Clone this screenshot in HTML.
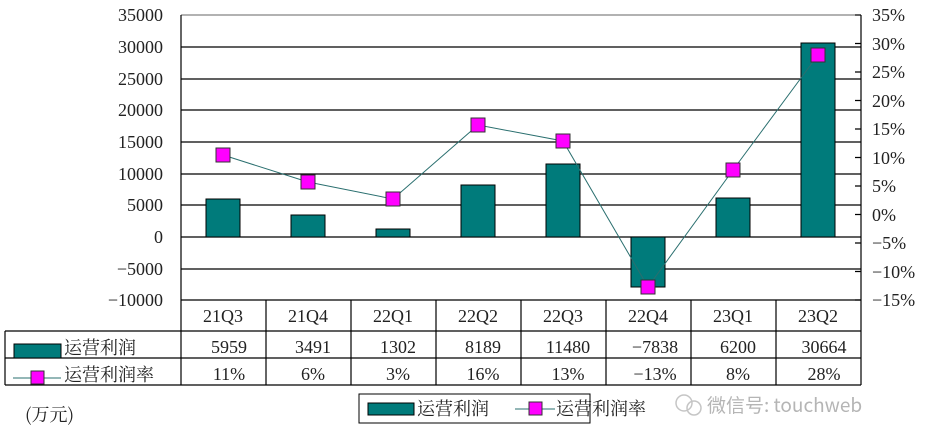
<!DOCTYPE html>
<html><head><meta charset="utf-8"><style>
body{margin:0;background:#fff;}
svg text{font-family:"Liberation Serif","Noto Serif CJK SC",serif;fill:#222;}
.cj{font-family:"Noto Serif CJK SC","Noto Sans CJK SC",serif;}
.wm{font-family:"Noto Sans CJK SC","WenQuanYi Zen Hei",sans-serif;}
</style></head><body>
<svg width="926" height="442" viewBox="0 0 926 442" xmlns="http://www.w3.org/2000/svg">
<g stroke="#000" stroke-width="1.2">
<line x1="181" y1="47" x2="861" y2="47"/><line x1="181" y1="79" x2="861" y2="79"/>
<line x1="181" y1="110" x2="861" y2="110"/><line x1="181" y1="142" x2="861" y2="142"/>
<line x1="181" y1="174" x2="861" y2="174"/><line x1="181" y1="205" x2="861" y2="205"/>
<line x1="181" y1="237" x2="861" y2="237"/><line x1="181" y1="269" x2="861" y2="269"/>
</g>
<line x1="181" y1="15" x2="861" y2="15" stroke="#666" stroke-width="1"/>
<g fill="#007b7b" stroke="#000" stroke-width="1">
<rect x="206" y="199" width="34" height="38"/>
<rect x="291" y="215" width="34" height="22"/>
<rect x="376" y="229" width="34" height="8"/>
<rect x="461" y="185" width="34" height="52"/>
<rect x="546" y="164" width="34" height="73"/>
<rect x="631" y="237" width="34" height="50"/>
<rect x="716" y="198" width="34" height="39"/>
<rect x="801" y="43" width="34" height="194"/>
</g>
<polyline fill="none" stroke="#2a6f6f" stroke-width="1" points="223,155 308,182 393,199 478,125 563,141 648,287 733,170 818,55"/>
<g fill="#ff00ff" stroke="#333" stroke-width="1">
<rect x="216" y="148" width="14" height="14"/><rect x="301" y="175" width="14" height="14"/>
<rect x="386" y="192" width="14" height="14"/><rect x="471" y="118" width="14" height="14"/>
<rect x="556" y="134" width="14" height="14"/><rect x="641" y="280" width="14" height="14"/>
<rect x="726" y="163" width="14" height="14"/><rect x="811" y="48" width="14" height="14"/>
</g>
<g stroke="#000" stroke-width="1.2" fill="none">
<line x1="181" y1="15" x2="181" y2="385"/>
<line x1="861" y1="15" x2="861" y2="385"/>
<line x1="181" y1="300" x2="861" y2="300"/>
<line x1="5" y1="331" x2="861" y2="331"/>
<line x1="5" y1="358" x2="861" y2="358"/>
<line x1="5" y1="385" x2="861" y2="385"/>
<line x1="5" y1="331" x2="5" y2="385"/>
<line x1="266" y1="300" x2="266" y2="385"/><line x1="351" y1="300" x2="351" y2="385"/>
<line x1="436" y1="300" x2="436" y2="385"/><line x1="521" y1="300" x2="521" y2="385"/>
<line x1="606" y1="300" x2="606" y2="385"/><line x1="691" y1="300" x2="691" y2="385"/>
<line x1="776" y1="300" x2="776" y2="385"/>
<path d="M855 15H861M855 43.5H861M855 72H861M855 100.5H861M855 129H861M855 157.5H861M855 186H861M855 214.5H861M855 243H861M855 271.5H861M855 300H861"/>
</g>
<g font-size="18" text-anchor="end">
<text x="163" y="21">35000</text><text x="163" y="53">30000</text><text x="163" y="85">25000</text>
<text x="163" y="116">20000</text><text x="163" y="148">15000</text><text x="163" y="180">10000</text>
<text x="163" y="211">5000</text><text x="163" y="243">0</text><text x="163" y="275">−5000</text>
<text x="163" y="306">−10000</text>
</g>
<g font-size="18" text-anchor="start">
<text x="872" y="21">35%</text><text x="872" y="50">30%</text><text x="872" y="78">25%</text>
<text x="872" y="107">20%</text><text x="872" y="135">15%</text><text x="872" y="164">10%</text>
<text x="872" y="192">5%</text><text x="872" y="221">0%</text><text x="872" y="249">−5%</text>
<text x="872" y="278">−10%</text><text x="872" y="306">−15%</text>
</g>
<g font-size="18" text-anchor="middle">
<text x="223" y="322">21Q3</text><text x="308" y="322">21Q4</text><text x="393" y="322">22Q1</text>
<text x="478" y="322">22Q2</text><text x="563" y="322">22Q3</text><text x="648" y="322">22Q4</text>
<text x="733" y="322">23Q1</text><text x="818" y="322">23Q2</text>
<text x="229" y="353">5959</text><text x="313" y="353">3491</text><text x="398" y="353">1302</text>
<text x="483" y="353">8189</text><text x="568" y="353">11480</text><text x="655" y="353">−7838</text>
<text x="738" y="353">6200</text><text x="824" y="353">30664</text>
<text x="229" y="380">11%</text><text x="313" y="380">6%</text><text x="398" y="380">3%</text>
<text x="483" y="380">16%</text><text x="568" y="380">13%</text><text x="655" y="380">−13%</text>
<text x="738" y="380">8%</text><text x="824" y="380">28%</text>
</g>
<rect x="14" y="344" width="47" height="14" fill="#007b7b" stroke="#000"/>
<text class="cj" x="64" y="354" font-size="18">运营利润</text>
<line x1="13" y1="378" x2="61" y2="378" stroke="#2a6f6f"/>
<rect x="31" y="371" width="13" height="13" fill="#ff00ff" stroke="#333"/>
<text class="cj" x="64" y="381" font-size="18">运营利润率</text>
<text class="cj" x="25" y="421" font-size="18">(万元)</text>
<rect x="359" y="394" width="231" height="29" fill="#fff" stroke="#000"/>
<rect x="368" y="403" width="46" height="12" fill="#007b7b" stroke="#000"/>
<text class="cj" x="417" y="415" font-size="18">运营利润</text>
<line x1="515" y1="409" x2="555" y2="409" stroke="#2a6f6f"/>
<rect x="529" y="402" width="13" height="13" fill="#ff00ff" stroke="#333"/>
<text class="cj" x="556" y="415" font-size="18">运营利润率</text>
<text class="wm" x="707" y="412" font-size="19" style="fill:#b5b5b5">微信号: touchweb</text>
<circle cx="684" cy="403" r="8" fill="none" stroke="#c5c5c5" stroke-width="1.5"/>
<circle cx="694" cy="408" r="7" fill="none" stroke="#c5c5c5" stroke-width="1.5"/>
</svg>
</body></html>
